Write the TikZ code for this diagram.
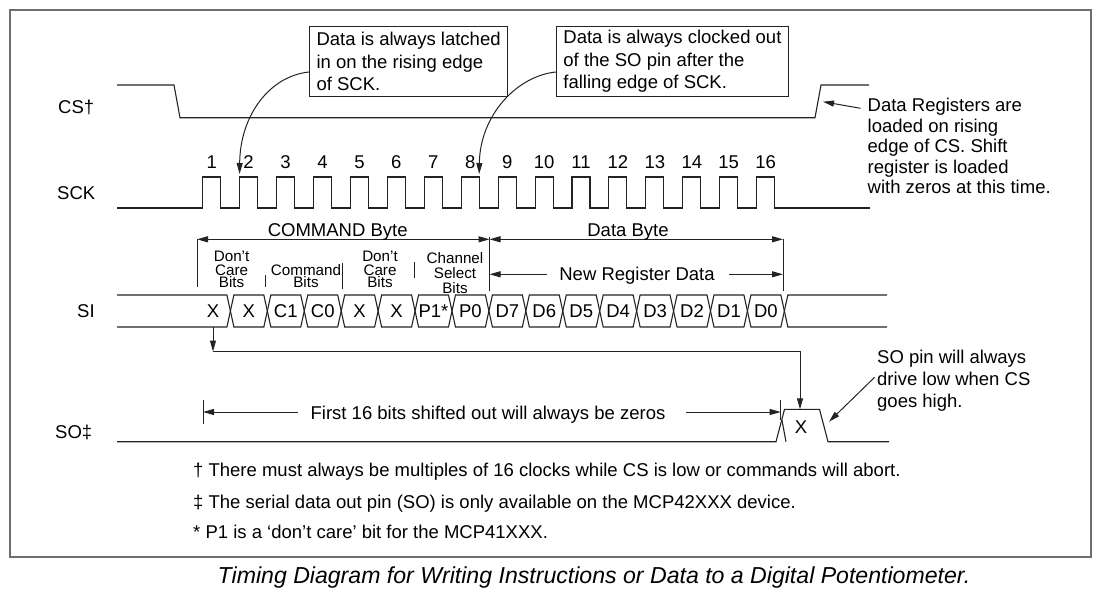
\documentclass[tikz,border=0pt]{standalone}
\usepackage{fontspec}
\setmainfont{Liberation Sans}
\usetikzlibrary{arrows.meta}
\definecolor{ln}{RGB}{35,35,35}
\definecolor{frm}{RGB}{110,110,110}
\begin{document}
\begin{tikzpicture}[x=1pt,y=-1pt,
  >={Triangle[length=11pt,width=6pt]},
  wave/.style={line width=1.1pt, draw=ln, line join=miter},
  thin/.style={line width=1pt, draw=ln},
  body/.style={font=\fontsize{18.5}{22.5}\selectfont, inner sep=0pt, text=black},
  small/.style={font=\fontsize{15.2}{13}\selectfont, inner sep=0pt, text=black},
  note/.style={body, align=left},
  callout/.style={draw=ln, line width=1.1pt, minimum height=70pt, inner sep=0pt, align=left,
    font=\fontsize{18.5}{22.5}\selectfont},
  lbl/.style={body, anchor=base west},
  bit/.style={body, anchor=base}]
\useasboundingbox (0,0) rectangle (1100,589);
% frame
\draw[frm, line width=1.4pt] (10,10) rectangle (1091,557);
% row labels
\node[lbl] (lcs) at (58,113.6) {CS†};
\node[lbl] (lsck) at (57,199.6) {SCK};
\node[lbl] (lsi) at (77,317.6) {SI};
\node[lbl] (lso) at (55,438.6) {SO‡};
% CS waveform
\draw[wave] (117,85) -- (174,85) -- (180,117.7) -- (815,117.7) -- (821,85) -- (869,85);
% SCK waveform
\draw[wave] (117,208) \foreach \k in {0,...,15}{ -- ({202.7+\k*36.93},208) -- ++(0,-31) -- ++(18,0) -- ++(0,31)} -- (870,208);
\foreach \k in {1,...,16}
  \node[bit] (n\k) at ({202.7+(\k-1)*36.93+9},168.6) {\k};
% SI bus
\draw[wave] (117,295) -- (226.9,295) -- (230.4,311) -- (226.9,327) -- (117,327);
\foreach \k in {1,...,15}{
  \pgfmathsetmacro\ca{230.4+(\k-1)*36.93}
  \pgfmathsetmacro\cb{\ca+36.93}
  \draw[wave] (\ca,311) -- (\ca+3.5,295) -- (\cb-3.5,295) -- (\cb,311) -- (\cb-3.5,327) -- (\ca+3.5,327) -- cycle;
}
\draw[wave] (887,295) -- (787.85,295) -- (784.35,311) -- (787.85,327) -- (887,327);
\node[bit] (b0) at (213,317.6) {X};
\foreach \t [count=\i] in {X,C1,C0,X,X,P1*,P0,D7,D6,D5,D4,D3,D2,D1,D0}
  \node[bit] (b\i) at ({230.4+(\i-1)*36.93+18.47},317.6) {\t};
% dimension ticks
\coordinate (cmdL) at (197,239.3);
\coordinate (cmdR) at (489.5,239.3);
\coordinate (datR) at (783,239.3);
\coordinate (nrdL) at (489.5,274.3);
\coordinate (nrdR) at (783,274.3);
\draw[thin] (cmdL) -- (197,287);
\draw[thin] (489.5,237) -- (489.5,291);
\draw[thin] (datR) -- (783,291);
\draw[thin,<->] (cmdL) -- (cmdR);
\draw[thin,<->] (cmdR) -- (datR);
\node[bit] (cmd) at (337.7,236.6) {COMMAND Byte};
\node[bit] (dat) at (628,236.6) {Data Byte};
\node[bit] (nrd) at (637,280.5) {New Register Data};
\coordinate (nrdA) at (547,274.3);
\coordinate (nrdB) at (729,274.3);
\draw[thin,->] (nrdA) -- (nrdL);
\draw[thin,->] (nrdB) -- (nrdR);
% small field labels
\foreach \t/\x/\y [count=\i] in {Don’t/231.6/261.5, Care/231.6/275, Bits/231.6/287.5,
   Command/306/275, Bits/306/287.5,
   Don’t/380/261.5, Care/380/275, Bits/380/287.5,
   Channel/455/263.3, Select/455/278.3, Bits/455/293.3}
  \node[small, anchor=base] (s\i) at (\x,\y) {\t};
\draw[thin] (265.6,275) -- (265.6,287);
\draw[thin] (342,263) -- (342,289);
\draw[thin] (414,262) -- (414,278);
% SI -> SO arrow
\coordinate (siX) at (213,327);
\coordinate (bendA) at (213,351.5);
\coordinate (bendB) at (800,351.5);
\coordinate (soTop) at (800,409.3);
\draw[thin,->] (siX) -- (bendA);
\draw[thin,->] (bendA) -- (bendB) -- (soTop);
% SO waveform
\draw[wave] (117,441.7) -- (776,441.7) -- (784.5,409.3) -- (819.5,409.3) -- (828,441.7) -- (889,441.7);
\draw[wave] (781.9,420) -- (786,441.7);
\node[bit] (sox) at (801,433.6) {X};
% first 16 bits
\coordinate (fL) at (203,412);
\coordinate (fR) at (780.7,412);
\coordinate (fa) at (298,412);
\coordinate (fb) at (686,412);
\draw[thin] (203,400) -- (203,424);
\draw[thin] (780.7,400) -- (780.7,420);
\draw[thin,->] (fa) -- (fL);
\draw[thin,->] (fb) -- (fR);
\node[bit] (f16) at (488,419.5) {First 16 bits shifted out will always be zeros};
% callouts
\node[callout, minimum width=198.2pt] (box1) at (408.6,61.7) {Data is always latched\\in on the rising edge\\of SCK.};
\node[callout, minimum width=232.3pt] (box2) at (672.45,61.7) {Data is always clocked out\\of the SO pin after the\\falling edge of SCK.};
\coordinate (r2) at (239.6,174);
\coordinate (f8) at (479.2,174);
\draw[thin,->] ([yshift=-10.3pt]box1.west) .. controls (270,76) and (240,115) .. (r2);
\draw[thin,->] ([yshift=-10.3pt]box2.west) .. controls (517,76) and (480,115) .. (f8);
% right notes
\node[note, anchor=west, font=\fontsize{18.5}{20.5}\selectfont] (dreg) at (867.5,146) {Data Registers are\\loaded on rising\\edge of CS. Shift\\register is loaded\\with zeros at this time.};
\coordinate (dregA) at (860.5,108.3);
\coordinate (csR) at (823,101.7);
\draw[thin,->] (dregA) -- (csR);
\node[note, anchor=west, font=\fontsize{18.5}{22}\selectfont] (sopin) at (877,380.8) {SO pin will always\\drive low when CS\\goes high.};
\coordinate (sopA) at (874.6,377.3);
\coordinate (sopB) at (829,421.7);
\draw[thin,->] (sopA) -- (sopB);
% footnotes
\node[lbl] (fn1) at (193,476.7) {† There must always be multiples of 16 clocks while CS is low or commands will abort.};
\node[lbl] (fn2) at (193,508.2) {‡ The serial data out pin (SO) is only available on the MCP42XXX device.};
\node[lbl] (fn3) at (193,538.2) {* P1 is a ‘don’t care’ bit for the MCP41XXX.};
% caption
\node[anchor=base, inner sep=0pt, font=\itshape\fontsize{23.1}{26}\selectfont] (cap) at (594,583) {Timing Diagram for Writing Instructions or Data to a Digital Potentiometer.};
\end{tikzpicture}
\end{document}
